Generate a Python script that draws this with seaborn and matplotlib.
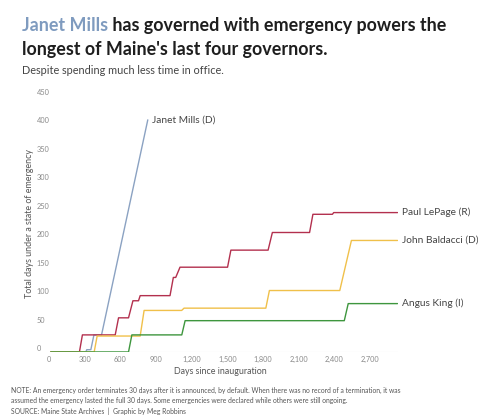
import pandas as pd
import seaborn as sns
import matplotlib.pyplot as plt
from matplotlib.ticker import FuncFormatter

# --- data (days since inauguration, cumulative days) ---
governors = ["Janet Mills (D)", "Paul LePage (R)", "John Baldacci (D)", "Angus King (I)"]
colors = ["#8ba2c2", "#b3304e", "#f0c04a", "#3e963e"]

mills_days = [15, 310, 318, 352, 378, 442, 831]
mills_total = [0, 0, 4, 4, 30, 30, 408]

lepage_days = [15, 256, 281, 557, 585, 669, 706, 753, 767, 1018, 1046, 1066, 1102,
               1502, 1530, 1843, 1879, 2192, 2220, 2384, 2395, 2932]
lepage_total = [0, 0, 30, 30, 60, 60, 90, 90, 99, 99, 131, 131, 149,
                149, 179, 179, 210, 210, 242, 242, 245, 245]

baldacci_days = [15, 380, 405, 767, 800, 1116, 1136, 1824, 1854, 2446, 2544, 2932]
baldacci_total = [0, 0, 28, 28, 73, 73, 77, 77, 108, 108, 196, 196]

king_days = [15, 669, 697, 1117, 1145, 2484, 2517, 2932]
king_total = [0, 0, 30, 30, 55, 55, 85, 85]

x_ticks = list(range(0, 2701, 300))
y_ticks = list(range(0, 451, 50))

title_hl = "Janet Mills"
title_rest = " has governed with emergency powers the"
title_line2 = "longest of Maine's last four governors."
subtitle = "Despite spending much less time in office."
note_lines = [
    "NOTE: An emergency order terminates 30 days after it is announced, by default. When there was no record of a termination, it was",
    "assumed the emergency lasted the full 30 days. Some emergencies were declared while others were still ongoing.",
    "SOURCE: Maine State Archives  |  Graphic by Meg Robbins",
]

frames = []
for name, d, v in zip(governors,
                      [mills_days, lepage_days, baldacci_days, king_days],
                      [mills_total, lepage_total, baldacci_total, king_total]):
    frames.append(pd.DataFrame({"governor": name, "days": d, "total": v}))
df = pd.concat(frames, ignore_index=True)

sns.set_theme(style="white")
plt.rcParams["font.family"] = ["Lato", "DejaVu Sans"]

fig = plt.figure(figsize=(5, 4.2), dpi=100)
ax = fig.add_axes([0.098, 0.162, 0.699, 0.6095])

palette = dict(zip(governors, colors))
sns.lineplot(data=df, x="days", y="total", hue="governor", palette=palette,
             estimator=None, sort=False, linewidth=1.0, legend=False, ax=ax)

ax.axhline(0, color="#e6e6e6", lw=0.8, zorder=0)
ax.set_xlim(0, 2940)
ax.set_ylim(0, 450)
sns.despine(ax=ax, left=True, bottom=True)

# direct labels at line ends
for name, d, v in zip(governors,
                      [mills_days, lepage_days, baldacci_days, king_days],
                      [mills_total, lepage_total, baldacci_total, king_total]):
    ax.annotate(name, xy=(d[-1], v[-1]), xytext=(3, 0), textcoords="offset points",
                ha="left", va="center", fontsize=7.3, color="#444444",
                annotation_clip=False)

ax.set_xticks(x_ticks)
ax.xaxis.set_major_formatter(FuncFormatter(lambda v, p: f"{int(v):,}"))
ax.set_yticks(y_ticks)
ax.tick_params(axis="x", length=0, pad=3, labelsize=5.3, labelcolor="#8a8a8a")
ax.tick_params(axis="y", length=0, pad=9, labelsize=5.3, labelcolor="#8a8a8a")
for lbl in ax.get_yticklabels():
    lbl.set_ha("left")
    lbl.set_va("bottom")

ax.set_xlabel("Days since inauguration", fontsize=6.4, color="#555555")
ax.set_ylabel("Total days under a state of emergency", fontsize=6.4, color="#555555")
ax.xaxis.set_label_coords(0.49, -0.078)
ax.yaxis.set_label_coords(-0.057, 0.5)
ax.xaxis.label.set_va("center")
ax.yaxis.label.set_va("center")

# title with highlighted name
t1 = fig.text(0.043, 0.940, title_hl, fontsize=12.9, fontweight="bold",
              color="#7f9bbf", va="center", ha="left")
ax.annotate(title_rest, xy=(1, 0), xycoords=t1, va="bottom", ha="left",
            fontsize=12.9, fontweight="bold", color="#1e1e1e", annotation_clip=False)
fig.text(0.043, 0.881, title_line2, fontsize=12.9, fontweight="bold",
         color="#1e1e1e", va="center", ha="left")
fig.text(0.043, 0.831, subtitle, fontsize=7.8, color="#444444", va="center", ha="left")

for y, line in zip([0.0714, 0.0476, 0.0198], note_lines):
    fig.text(0.022, y, line, fontsize=4.85, color="#555555", va="center", ha="left")

fig.savefig("out.png", dpi=100, facecolor="white")
